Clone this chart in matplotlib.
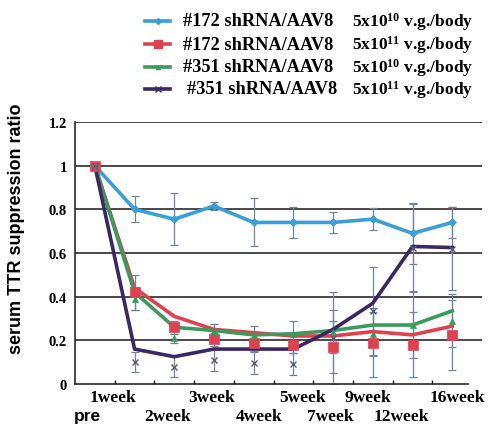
import matplotlib
matplotlib.use("Agg")
import matplotlib.pyplot as plt
from matplotlib.lines import Line2D
import numpy as np

plt.rcParams['mathtext.fontset'] = 'custom'
plt.rcParams['mathtext.rm'] = 'Liberation Serif:bold'
plt.rcParams['mathtext.it'] = 'Liberation Serif:bold'
plt.rcParams['mathtext.bf'] = 'Liberation Serif:bold'

categories = ["pre", "1week", "2week", "3week", "4week", "5week", "7week", "9week", "12week", "16week"]

series_names = ["#172 shRNA/AAV8", "#172 shRNA/AAV8", "#351 shRNA/AAV8", "#351 shRNA/AAV8"]
doses = [r"5x10$^{10}$ v.g./body", r"5x10$^{11}$ v.g./body", r"5x10$^{10}$ v.g./body", r"5x10$^{11}$ v.g./body"]

# line values (as drawn)
blue_line   = [1.0, 0.80, 0.755, 0.815, 0.74, 0.74, 0.74, 0.755, 0.69, 0.74]
red_line    = [1.0, 0.44, 0.31, 0.25, 0.235, 0.22, 0.22, 0.24, 0.225, 0.265]
green_line  = [1.0, 0.42, 0.26, 0.245, 0.225, 0.23, 0.245, 0.27, 0.27, 0.335]
purple_line = [1.0, 0.16, 0.125, 0.16, 0.16, 0.16, 0.25, 0.37, 0.63, 0.625]

# marker values (means) and error sizes
blue_mean   = [1.0, 0.80, 0.755, 0.815, 0.74, 0.74, 0.74, 0.755, 0.69, 0.74]
blue_err    = [0.0, 0.06, 0.12, 0.02, 0.11, 0.07, 0.05, 0.05, 0.14, 0.07]
red_mean    = [1.0, 0.42, 0.26, 0.205, 0.19, 0.18, 0.17, 0.19, 0.18, 0.225]
red_err     = [0.0, 0.08, 0.03, 0.03, 0.04, 0.04, 0.12, 0.16, 0.15, 0.16]
green_mean  = [1.0, 0.39, 0.21, 0.245, 0.225, 0.23, 0.24, 0.23, 0.27, 0.29]
green_err   = [0.0, 0.05, 0.02, 0.03, 0.04, 0.06, 0.10, 0.10, 0.15, 0.12]
purple_mean = [1.0, 0.10, 0.08, 0.11, 0.095, 0.09, 0.21, 0.335, 0.625, 0.62]
purple_err  = [0.0, 0.045, 0.05, 0.05, 0.05, 0.05, 0.21, 0.2, 0.2, 0.19]

yticks = [0, 0.2, 0.4, 0.6, 0.8, 1.0, 1.2]
ytick_labels = ["0", "0.2", "0.4", "0.6", "0.8", "1", "1.2"]

colors = ["#3a9fd6", "#e0414f", "#3b9a5c", "#3a2766"]
markers = ["D", "s", "^", "x"]
msizes = [4, 7, 4, 5]
err_color = "#6f8798"

fig = plt.figure(figsize=(4.88, 4.27), dpi=100)
fig.patch.set_facecolor("white")
ax = fig.add_axes([75/488, 42/427, (482-75)/488, 262/427])

x = np.arange(len(categories))
lines = [blue_line, red_line, green_line, purple_line]
means = [blue_mean, red_mean, green_mean, purple_mean]
errs = [blue_err, red_err, green_err, purple_err]

for yv in yticks[1:]:
    ax.axhline(yv, color="#2a2a2a", lw=1.2, zorder=1)

for i in range(4):
    ax.errorbar(x, means[i], yerr=errs[i], fmt="none", ecolor=err_color,
                elinewidth=0.9, capsize=3, capthick=0.9, zorder=2)
for i in range(4):
    ax.plot(x, lines[i], color=colors[i], lw=2.6, zorder=3 + i * 0.1)
for i in range(4):
    mew = 1.0 if markers[i] == "x" else 0.5
    ax.plot(x, means[i], linestyle="none", marker=markers[i], ms=msizes[i],
            color=colors[i], mec=colors[i] if markers[i] != "x" else "#5a5a7a",
            mew=mew, zorder=4)

ax.set_xlim(-0.5, 9.75)
ax.set_ylim(0, 1.2)
ax.set_yticks(yticks)
ax.set_yticklabels(ytick_labels, fontfamily="Liberation Serif", fontweight="bold", fontsize=10.5)
ax.tick_params(axis="y", length=0, pad=6)
ax.set_xticks(np.arange(0.5, 9.5, 1.0))
ax.set_xticklabels([])
ax.tick_params(axis="x", length=3, direction="in", width=1)
ax.spines["top"].set_visible(False)
ax.spines["right"].set_visible(False)
ax.spines["bottom"].set_bounds(-0.5, 9.4)
ax.spines["left"].set_linewidth(1.2)
ax.spines["bottom"].set_linewidth(1.2)
ax.spines["left"].set_color("#2a2a2a")
ax.spines["bottom"].set_color("#2a2a2a")

# category labels (staggered)
label_x = [-0.18, 0.45, 1.84, 2.95, 4.13, 5.24, 5.92, 6.88, 7.73, 9.12]
label_row = [1, 0, 1, 0, 1, 0, 1, 0, 1, 0]
trans = ax.get_xaxis_transform()
for lx, lab, r in zip(label_x, categories, label_row):
    yy = -0.05 if r == 0 else -0.122
    fam = "Liberation Sans" if lab == "pre" else "Liberation Serif"
    ax.text(lx, yy, lab, transform=trans, ha="center", va="center",
            fontfamily=fam, fontweight="bold", fontsize=12.5, clip_on=False)

fig.text(17/488, 1 - 229/427, "serum TTR suppression ratio", rotation=90,
         ha="center", va="center", fontfamily="Liberation Sans",
         fontweight="bold", fontsize=13)

# legend
row_y = [22, 45, 68, 90]
text1_x = [183, 183, 183, 187]
for i in range(4):
    yf = 1 - row_y[i] / 427
    fig.add_artist(Line2D([145/488, 170/488], [yf, yf], color=colors[i], lw=2.6,
                          transform=fig.transFigure))
    fig.add_artist(Line2D([157.5/488], [yf], marker=markers[i], ms=msizes[i] - 1,
                          color=colors[i], transform=fig.transFigure))
    fig.text(text1_x[i] / 488, yf, series_names[i], ha="left", va="center",
             fontfamily="Liberation Serif", fontweight="bold", fontsize=13.2)
    fig.text(352 / 488, yf, doses[i], ha="left", va="center",
             fontfamily="Liberation Serif", fontweight="bold", fontsize=12.5)

fig.savefig("out.png", dpi=100, facecolor="white")
